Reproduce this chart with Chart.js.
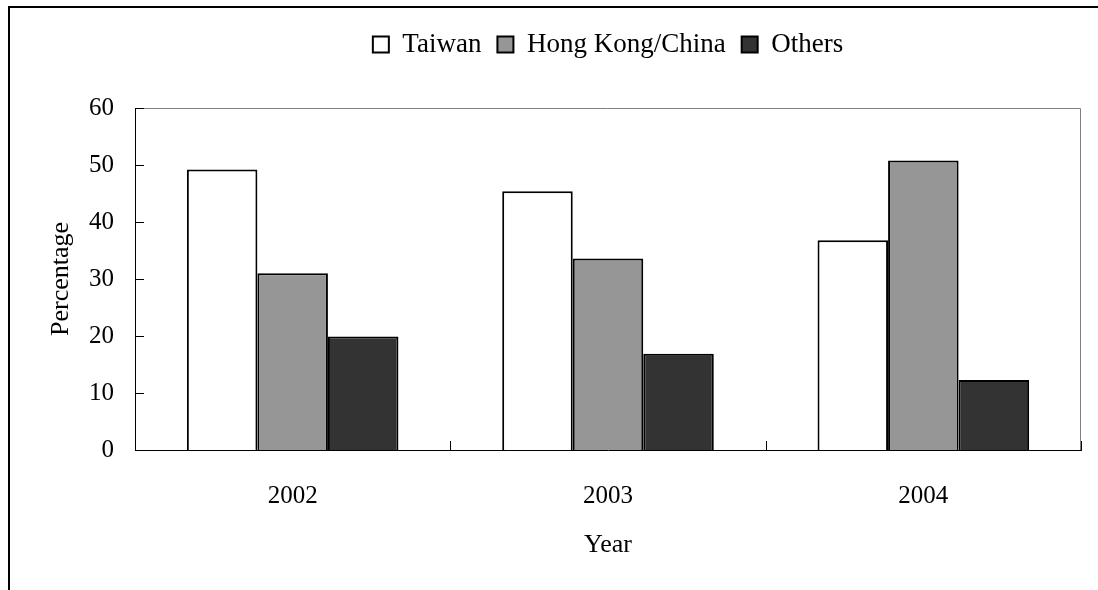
<!DOCTYPE html>
<html>
<head>
<meta charset="utf-8">
<title>Percentage by Year</title>
<script src="https://cdn.jsdelivr.net/npm/chart.js@4.4.1/dist/chart.umd.min.js"></script>
<style>
  html, body { margin: 0; padding: 0; background: #fff; overflow: hidden; }
  #frame {
    position: absolute; left: 8px; top: 6px;
    width: 1200px; height: 700px;
    border: 2px solid #000; box-sizing: border-box;
  }
  #chart { position: absolute; left: 0; top: 0; }
</style>
</head>
<body>
<div id="frame"></div>
<canvas id="chart" width="1098" height="590"></canvas>
<script>
// Categories and series values
const years = ['2002', '2003', '2004'];
const taiwan = [49.2, 45.4, 36.8];
const hongKongChina = [31.0, 33.6, 50.8];
const others = [19.9, 16.9, 12.3];
// Value axis range and step
const yMin = 0;
const yMax = 60;
const yStep = 10;

const serif = 'Liberation Serif, Times New Roman, serif';

// Plot frame (grey top/right), inward tick marks on both axes
const frameTicks = {
  id: 'frameTicks',
  afterInit(chart) {
    const lg = chart.legend;
    if (lg && !lg._bandPatched) {
      const fit = lg.fit;
      lg.fit = function () { fit.call(this); this.height = 93; };
      lg._bandPatched = true;
    }
  },
  afterDraw(chart) {
    const { ctx, chartArea: a, scales: { x, y } } = chart;
    ctx.save();
    ctx.lineWidth = 1;
    ctx.strokeStyle = '#808080';
    ctx.beginPath();
    ctx.moveTo(a.left, a.top + 0.5);
    ctx.lineTo(a.right - 0.5, a.top + 0.5);
    ctx.lineTo(a.right - 0.5, a.bottom);
    ctx.stroke();

    ctx.strokeStyle = '#000';
    ctx.beginPath();
    y.ticks.forEach(t => {
      const py = Math.round(y.getPixelForValue(t.value)) + 0.5;
      ctx.moveTo(a.left, py);
      ctx.lineTo(a.left + 9, py);
    });
    for (let i = 0; i <= years.length; i++) {
      const px = Math.round(x.getPixelForValue(i - 0.5)) + 0.5;
      ctx.moveTo(px, a.bottom);
      ctx.lineTo(px, a.bottom - 9);
    }
    ctx.stroke();
    ctx.restore();
  }
};

new Chart(document.getElementById('chart'), {
  type: 'bar',
  data: {
    labels: years,
    datasets: [
      { label: 'Taiwan', data: taiwan, backgroundColor: '#ffffff', borderColor: '#000', borderWidth: 2 },
      { label: 'Hong Kong/China', data: hongKongChina, backgroundColor: '#969696', borderColor: '#000', borderWidth: 2 },
      { label: 'Others', data: others, backgroundColor: '#333333', borderColor: '#000', borderWidth: 2 }
    ]
  },
  options: {
    responsive: false,
    animation: false,
    devicePixelRatio: 1,
    layout: { padding: { top: 15, right: 17, bottom: 0, left: 0 } },
    datasets: { bar: { barPercentage: 1, categoryPercentage: 0.671 } },
    plugins: {
      tooltip: { enabled: false },
      legend: {
        position: 'top',
        fullSize: false,
        labels: {
          boxWidth: 16,
          boxHeight: 16,
          padding: 16,
          color: '#000',
          font: { family: serif, size: 27 }
        }
      }
    },
    scales: {
      x: {
        grid: { display: false },
        border: { display: true, color: '#000', width: 1 },
        ticks: { color: '#000', padding: 23, font: { family: serif, size: 25 } },
        title: { display: true, text: 'Year', color: '#000', font: { family: serif, size: 26 }, padding: { top: 0, bottom: 29 } },
        afterFit(scale) { scale.height = 140; }
      },
      y: {
        min: yMin,
        max: yMax,
        grid: { display: false },
        border: { display: true, color: '#000', width: 1 },
        ticks: { stepSize: yStep, color: '#000', padding: 13, font: { family: serif, size: 25 } },
        title: { display: true, text: 'Percentage', color: '#000', font: { family: serif, size: 26 }, padding: { top: 46, bottom: 0 } },
        afterFit(scale) { scale.width = 135; }
      }
    }
  },
  plugins: [frameTicks]
});
</script>
</body>
</html>
